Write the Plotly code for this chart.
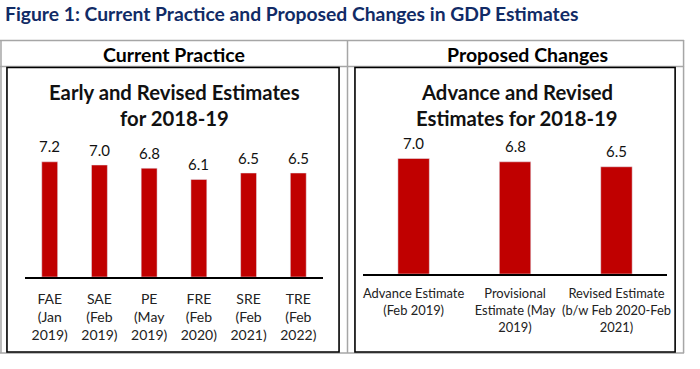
import plotly.graph_objects as go

# ---------------- data ----------------
cur_keys = ["FAE", "SAE", "PE", "FRE", "SRE", "TRE"]
cur_ticks = ["FAE<br>(Jan<br>2019)", "SAE<br>(Feb<br>2019)", "PE<br>(May<br>2019)",
             "FRE<br>(Feb<br>2020)", "SRE<br>(Feb<br>2021)", "TRE<br>(Feb<br>2022)"]
cur_vals = [7.2, 7.0, 6.8, 6.1, 6.5, 6.5]

prop_keys = ["AE", "PE", "RE"]
prop_ticks = ["Advance Estimate<br>(Feb 2019)", "Provisional<br>Estimate (May<br>2019)",
              "Revised Estimate<br>(b/w Feb 2020-Feb<br>2021)"]
prop_vals = [7.0, 6.8, 6.5]

fig_title = "Figure 1: Current Practice and Proposed Changes in GDP Estimates"
col_headers = ["Current Practice", "Proposed Changes"]
left_title = ["Early and Revised Estimates", "for 2018-19"]
right_title = ["Advance and Revised", "Estimates for 2018-19"]

# ---------------- layout helpers ----------------
W, H = 700, 369
def px(x):
    return x / W
def py(y):
    return 1 - y / H

BAR = "#C00000"
LABEL_FONT = "Lato"
TITLE_FONT = "Lato"

fig = go.Figure()
fig.add_trace(go.Bar(x=cur_keys, y=cur_vals, marker_color=BAR, width=0.32,
                     xaxis="x", yaxis="y", showlegend=False, hoverinfo="x+y"))
fig.add_trace(go.Bar(x=prop_keys, y=prop_vals, marker_color=BAR, width=0.31,
                     xaxis="x2", yaxis="y2", showlegend=False, hoverinfo="x+y"))

annotations = []
for k, v in zip(cur_keys, cur_vals):
    annotations.append(dict(x=k, y=v, xref="x", yref="y", text=f"{v:.1f}", showarrow=False,
                            yanchor="middle", yshift=15.5,
                            font=dict(family=LABEL_FONT, size=15, color="#111111")))
for k, v in zip(prop_keys, prop_vals):
    annotations.append(dict(x=k, y=v, xref="x2", yref="y2", text=f"{v:.1f}", showarrow=False,
                            yanchor="middle", yshift=15.5,
                            font=dict(family=LABEL_FONT, size=15, color="#111111")))

# figure title
annotations.append(dict(x=px(3), y=py(14), xref="paper", yref="paper", text=f"<b>{fig_title}</b>",
                        showarrow=False, xanchor="left", yanchor="middle",
                        font=dict(family=TITLE_FONT, size=19.3, color="#112b66")))
# column headers
annotations.append(dict(x=px(175), y=py(54), xref="paper", yref="paper", text=f"<b>{col_headers[0]}</b>",
                        showarrow=False, xanchor="center", yanchor="middle",
                        font=dict(family=TITLE_FONT, size=19.5, color="#000000")))
annotations.append(dict(x=px(531), y=py(54), xref="paper", yref="paper", text=f"<b>{col_headers[1]}</b>",
                        showarrow=False, xanchor="center", yanchor="middle",
                        font=dict(family=TITLE_FONT, size=19.5, color="#000000")))
# chart titles
for i, t in enumerate(left_title):
    annotations.append(dict(x=px(175), y=py(92 + 26 * i), xref="paper", yref="paper", text=f"<b>{t}</b>",
                            showarrow=False, xanchor="center", yanchor="middle",
                            font=dict(family=TITLE_FONT, size=20.3, color="#111111")))
for i, t in enumerate(right_title):
    annotations.append(dict(x=px(520), y=py(92 + 26 * i), xref="paper", yref="paper", text=f"<b>{t}</b>",
                            showarrow=False, xanchor="center", yanchor="middle",
                            font=dict(family=TITLE_FONT, size=20.3, color="#111111")))

shapes = []
GREY = "#a6a6a6"
def hline(x0, x1, y, color, w):
    shapes.append(dict(type="line", xref="paper", yref="paper", x0=px(x0), x1=px(x1),
                       y0=py(y), y1=py(y), line=dict(color=color, width=w)))
def vline(x, y0, y1, color, w):
    shapes.append(dict(type="line", xref="paper", yref="paper", x0=px(x), x1=px(x),
                       y0=py(y0), y1=py(y1), line=dict(color=color, width=w)))
# table grid
hline(0, 688, 40.5, GREY, 1.5)
hline(0, 688, 66.5, GREY, 1.5)
hline(0, 688, 353, GREY, 1.5)
vline(1, 40, 353, GREY, 1.5)
vline(349.5, 40, 353, GREY, 1.5)
vline(687.5, 40, 353, GREY, 1.5)
# inner chart boxes
for (x0, x1) in [(7, 341), (357, 679)]:
    shapes.append(dict(type="rect", xref="paper", yref="paper", x0=px(x0), x1=px(x1),
                       y0=py(352), y1=py(67.5), line=dict(color="#000000", width=1.6),
                       fillcolor="rgba(0,0,0,0)"))

axis_common = dict(showgrid=False, zeroline=False, ticks="", showline=True,
                   linecolor="#000000", linewidth=1.5,
                   tickfont=dict(family=LABEL_FONT, size=14, color="#222222"))

fig.update_layout(
    width=W, height=H, margin=dict(l=0, r=0, t=0, b=0),
    paper_bgcolor="white", plot_bgcolor="rgba(0,0,0,0)",
    bargap=0.68,
    xaxis=dict(domain=[px(25), px(325)], range=[-0.5, 5.5], anchor="y", ticklabelstandoff=8,
               tickmode="array", tickvals=cur_keys, ticktext=cur_ticks, **axis_common),
    yaxis=dict(domain=[py(277), py(149)], range=[0, 8], visible=False, anchor="x"),
    xaxis2=dict(domain=[px(365), px(671)], range=[-0.5, 2.5], anchor="y2", ticklabelstandoff=7,
                tickmode="array", tickvals=prop_keys, ticktext=prop_ticks,
                **{**axis_common, "tickfont": dict(family=LABEL_FONT, size=12.9, color="#222222")}),
    yaxis2=dict(domain=[py(274), py(142)], range=[0, 8], visible=False, anchor="x2"),
    annotations=annotations, shapes=shapes,
)

fig.write_html("out.html", config={"displayModeBar": False},
               post_script="document.body.style.margin='0';document.body.style.overflow='hidden';")
